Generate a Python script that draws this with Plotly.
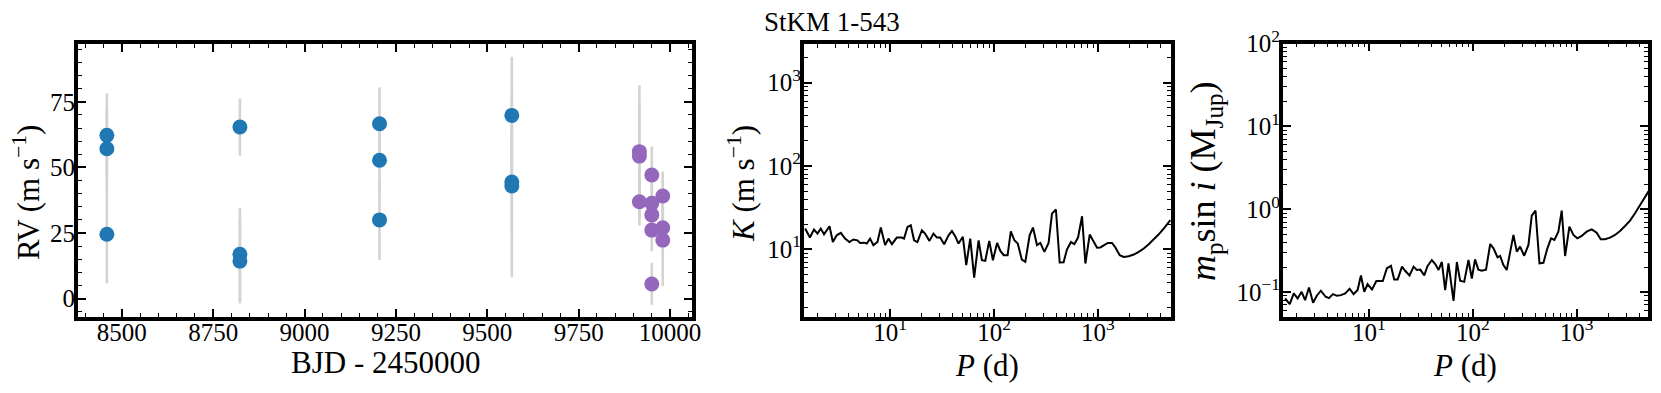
import math
import plotly.graph_objects as go

# ---------------- data ----------------
blue_t = [8459, 8459, 8459, 8823, 8823, 8823, 9205, 9205, 9205, 9567, 9567, 9567]
blue_rv = [62.2, 57.1, 24.5, 65.4, 16.9, 14.3, 66.6, 52.7, 30.0, 69.8, 44.4, 42.9]
blue_err = [16.0, 15.0, 18.7, 10.9, 17.7, 16.1, 13.9, 12.0, 15.3, 22.3, 20.0, 34.8]

purple_t = [9916, 9916, 9916, 9950, 9950, 9950, 9950, 9950, 9980, 9980, 9980]
purple_rv = [56.0, 54.3, 36.9, 47.1, 36.3, 31.9, 26.1, 5.6, 39.1, 27.0, 22.3]
purple_err = [25.3, 20.0, 9.0, 10.8, 8.0, 8.0, 8.0, 8.0, 9.3, 9.0, 17.5]

k_period = [1.52, 1.69, 1.85, 2.00, 2.15, 2.31, 2.61, 2.81, 3.06, 3.35, 3.68, 4.05, 4.43, 4.84,
            5.14, 5.62, 5.96, 6.41, 6.90, 7.55, 8.13, 8.95, 9.64, 10.4, 11.6, 12.9, 13.6, 14.7,
            15.8, 17.0, 18.3, 20.2, 21.7, 23.9, 26.1, 28.2, 30.3, 33.1, 36.5, 39.3, 42.3, 45.5,
            50.1, 54.0, 59.0, 64.4, 71.0, 76.4, 82.3, 89.9, 97.5, 107, 115, 124, 135, 145, 157,
            169, 185, 200, 220, 237, 259, 279, 305, 335, 361, 394, 428, 467, 503, 550, 593, 643,
            703, 757, 833, 910, 980, 1055, 1153, 1241, 1367, 1472, 1620, 1770, 1978, 2209, 2466,
            2759, 3080, 3444, 3848, 4296, 4798, 4977]
k_semi_amp = [17.7, 13.8, 17.2, 15.4, 17.7, 15.1, 18.9, 12.2, 14.7, 15.7, 13.4, 12.2, 13.1, 12.8,
              11.9, 12.0, 11.7, 13.4, 11.2, 12.2, 18.2, 11.2, 13.4, 11.5, 13.8, 13.8, 13.4, 18.5,
              19.4, 12.8, 12.2, 16.9, 15.4, 12.6, 15.4, 13.8, 13.8, 11.5, 14.7, 16.6, 14.3, 11.7,
              14.1, 6.43, 13.4, 4.56, 12.8, 7.38, 7.24, 12.6, 7.38, 11.9, 9.55, 8.47, 8.47, 16.4, 12.8,
              11.7, 7.52, 7.05, 14.7, 18.2, 11.2, 11.9, 9.29, 11.9, 26.8, 30.0, 6.92, 6.97, 9.91,
              12.2, 11.5, 13.8, 24.9, 6.73, 15.0, 12.2, 10.4, 10.5, 11.2, 11.9, 11.9, 10.5, 8.47,
              8.09, 8.24, 8.63, 9.29, 10.2, 11.5, 13.1, 15.1, 17.7, 21.3, 22.3]

m_period = [1.56, 1.73, 1.89, 2.06, 2.25, 2.43, 2.65, 2.90, 3.16, 3.45, 3.83, 4.12, 4.51, 4.92,
            5.38, 5.92, 6.51, 7.12, 7.78, 8.38, 9.02, 9.70, 10.7, 11.8, 13.6, 14.9, 16.3, 17.5,
            18.9, 20.8, 22.3, 24.6, 26.9, 28.9, 31.2, 34.1, 36.6, 40.3, 43.5, 46.8, 50.3, 54.2,
            58.3, 65.2, 70.2, 75.5, 82.6, 90.8, 97.8, 105, 113, 122, 134, 147, 158, 173, 183,
            197, 212, 232, 246, 265, 285, 312, 343, 369, 401, 438, 478, 522, 566, 610, 666, 717,
            773, 850, 929, 1014, 1116, 1247, 1393, 1556, 1701, 1872, 2092, 2337, 2613, 2917,
            3259, 3640, 4067, 4542, 4966]
m_sini = [0.084, 0.0717, 0.0964, 0.084, 0.101, 0.080, 0.114, 0.0744, 0.0912, 0.104, 0.0879,
          0.0847, 0.0946, 0.0903, 0.092, 0.0964, 0.110, 0.0946, 0.106, 0.159, 0.101, 0.125, 0.108,
          0.136, 0.136, 0.194, 0.208, 0.142, 0.142, 0.203, 0.181, 0.159, 0.203, 0.185, 0.187,
          0.159, 0.206, 0.244, 0.218, 0.185, 0.231, 0.106, 0.222, 0.0786, 0.231, 0.137, 0.133,
          0.244, 0.146, 0.249, 0.187, 0.181, 0.187, 0.381, 0.338, 0.263, 0.273, 0.212, 0.185,
          0.360, 0.490, 0.308, 0.354, 0.275, 0.371, 0.838, 0.964, 0.222, 0.226, 0.338, 0.446,
          0.426, 0.537, 0.964, 0.273, 0.617, 0.490, 0.446, 0.476, 0.537, 0.573, 0.522, 0.434,
          0.434, 0.454, 0.490, 0.547, 0.629, 0.729, 0.895, 1.13, 1.42, 1.68]

rv_ticks = [8500, 8750, 9000, 9250, 9500, 9750, 10000]
rv_yticks = [0, 25, 50, 75]
p_ticks = [10, 100, 1000]
k_ticks = [10, 100, 1000]
m_ticks = [0.1, 1, 10, 100]
title_text = "StKM 1-543"

# ---------------- layout helpers ----------------
W, H = 1661, 393
FONT = "Liberation Serif, Times New Roman, serif"
BLUE = "#1f77b4"
PURPLE = "#9467bd"
ERR = "#d3d3d3"


def px_x(a, b):
    return [a / W, b / W]


def px_y(top, bottom):
    return [1 - bottom / H, 1 - top / H]


def log_minor(lo_exp, hi_exp):
    vals = []
    for e in range(lo_exp, hi_exp + 1):
        for d in range(2, 10):
            vals.append(d * 10 ** e)
    return vals


def pow_labels(vals):
    out = []
    for v in vals:
        e = int(round(math.log10(v)))
        s = str(e).replace("-", "\u2212")
        out.append("10<sup>%s</sup>" % s)
    return out


MINOR = dict(ticks="inside", ticklen=4, tickwidth=1.4, tickcolor="black")

axis_common = dict(
    showline=True, linewidth=3.8, linecolor="black", mirror="allticks",
    ticks="inside", ticklen=8, tickwidth=1.6, tickcolor="black",
    showgrid=False, zeroline=False, automargin=False,
    tickfont=dict(family=FONT, size=25, color="black"),
)
xaxis_common = dict(axis_common, ticklabelstandoff=-10)
yaxis_common = dict(axis_common, ticklabelstandoff=-6)

fig = go.Figure()

# Left panel: RV time series
fig.add_trace(go.Scatter(
    x=blue_t, y=blue_rv, mode="markers",
    marker=dict(color=BLUE, size=15, line=dict(width=0)),
    error_y=dict(type="data", array=blue_err, color=ERR, thickness=2.6, width=0),
    xaxis="x", yaxis="y", showlegend=False))
fig.add_trace(go.Scatter(
    x=purple_t, y=purple_rv, mode="markers",
    marker=dict(color=PURPLE, size=15, line=dict(width=0)),
    error_y=dict(type="data", array=purple_err, color=ERR, thickness=2.6, width=0),
    xaxis="x", yaxis="y", showlegend=False))

# Middle panel: K limit
fig.add_trace(go.Scatter(
    x=k_period, y=k_semi_amp, mode="lines", line=dict(color="black", width=2),
    xaxis="x2", yaxis="y2", showlegend=False))

# Right panel: m sin i limit
fig.add_trace(go.Scatter(
    x=m_period, y=m_sini, mode="lines", line=dict(color="black", width=2),
    xaxis="x3", yaxis="y3", showlegend=False))

ydom = px_y(44, 317)

fig.update_layout(
    width=W, height=H,
    margin=dict(l=0, r=0, t=0, b=0),
    paper_bgcolor="white", plot_bgcolor="white",
    font=dict(family=FONT, color="black"),
    xaxis=dict(xaxis_common, domain=px_x(78, 692), range=[8380, 10060],
               tickvals=rv_ticks, ticktext=[str(v) for v in rv_ticks],
               minor=dict(MINOR, dtick=50), anchor="y"),
    yaxis=dict(yaxis_common, domain=ydom, range=[-7, 97],
               tickvals=rv_yticks, ticktext=[str(v) for v in rv_yticks],
               minor=dict(MINOR, dtick=5), anchor="x"),
    xaxis2=dict(xaxis_common, domain=px_x(804, 1171), type="log", range=[0.171, 3.703],
                tickvals=p_ticks, ticktext=pow_labels(p_ticks),
                minor=dict(MINOR, tickvals=log_minor(0, 3)), anchor="y2"),
    yaxis2=dict(yaxis_common, domain=ydom, type="log", range=[0.186, 3.465],
                tickvals=k_ticks, ticktext=pow_labels(k_ticks),
                minor=dict(MINOR, tickvals=log_minor(0, 3)), anchor="x2"),
    xaxis3=dict(xaxis_common, domain=px_x(1283, 1648), type="log", range=[0.173, 3.686],
                tickvals=p_ticks, ticktext=pow_labels(p_ticks),
                minor=dict(MINOR, tickvals=log_minor(0, 3)), anchor="y3"),
    yaxis3=dict(yaxis_common, domain=px_y(43.5, 317), type="log", range=[-1.3, 2.0],
                tickvals=m_ticks, ticktext=pow_labels(m_ticks),
                minor=dict(MINOR, tickvals=log_minor(-2, 1)), anchor="x3"),
)

TITLE_SIZE = 31


def ann(text, x, y, size=TITLE_SIZE, angle=0, xanchor="center"):
    fig.add_annotation(text=text, x=x / W, y=1 - y / H, xref="paper", yref="paper",
                       showarrow=False, textangle=angle, xanchor=xanchor, yanchor="middle",
                       font=dict(family=FONT, size=size, color="black"))


ann("BJD - 2450000", 385, 362)
ann("<i>P</i> (d)", 987, 365)
ann("<i>P</i> (d)", 1465, 365)
ann("RV (m s<sup>\u22121</sup>)", 26, 193, angle=-90)
ann("<i>K</i> (m s<sup>\u22121</sup>)", 741, 184, angle=-90)
ann("<i>m</i><sub>p</sub>sin <i>i</i> (M<sub>Jup</sub>)", 1205, 181, size=36, angle=-90)
ann(title_text, 762, 22, size=27, xanchor="left")

fig.write_html(
    "out.html",
    config={"displayModeBar": False},
    post_script="document.body.style.margin='0';document.body.style.overflow='hidden';",
)
